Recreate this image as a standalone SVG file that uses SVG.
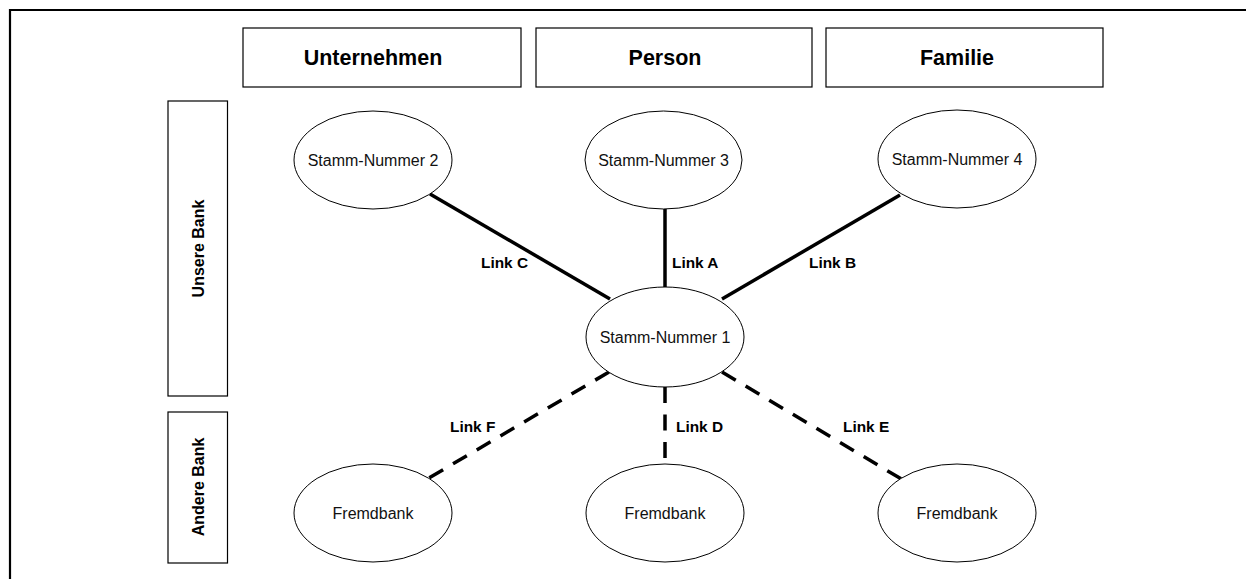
<svg xmlns="http://www.w3.org/2000/svg" width="1246" height="579" viewBox="0 0 1246 579">
<style>
.box{fill:#fff;stroke:#000;stroke-width:1.2}
.ell{fill:#fff;stroke:#000;stroke-width:1}
.hdr{font-family:"Liberation Sans",Arial,sans-serif;font-weight:bold;font-size:21.5px;text-anchor:middle}
.side{font-family:"Liberation Sans",Arial,sans-serif;font-weight:bold;font-size:16px;text-anchor:middle}
.lbl{font-family:"Liberation Sans",Arial,sans-serif;font-size:16px;text-anchor:middle;fill:#111}
.lnk{font-family:"Liberation Sans",Arial,sans-serif;font-weight:bold;font-size:15.4px}
.solid{stroke:#000;stroke-width:3.5;fill:none}
.dash{stroke:#000;stroke-width:3.5;fill:none;stroke-dasharray:16 11.5}
</style>
<rect width="1246" height="579" fill="#fff"/>
<path d="M10,579 V10 H1246" fill="none" stroke="#000" stroke-width="2.2"/>
<g id="hdr-unternehmen"><rect class="box" x="243" y="28" width="278" height="59"/><text class="hdr" x="373" y="65">Unternehmen</text></g>
<g id="hdr-person"><rect class="box" x="536" y="28" width="276" height="59"/><text class="hdr" x="665" y="65">Person</text></g>
<g id="hdr-familie"><rect class="box" x="826" y="28" width="277" height="59"/><text class="hdr" x="957" y="65">Familie</text></g>
<g id="side-unsere"><rect class="box" x="168" y="101" width="59.5" height="295"/><text class="side" transform="translate(203.5,248.5) rotate(-90)">Unsere Bank</text></g>
<g id="side-andere"><rect class="box" x="168" y="412" width="59.5" height="151"/><text class="side" transform="translate(203.5,487) rotate(-90)">Andere Bank</text></g>
<g id="connectors">
<line class="solid" x1="430" y1="194" x2="610" y2="299"/>
<line class="solid" x1="665" y1="209" x2="665" y2="287"/>
<line class="solid" x1="900" y1="195" x2="722" y2="299"/>
<line class="dash" x1="609" y1="372" x2="429" y2="478"/>
<line class="dash" x1="665" y1="387" x2="665" y2="459"/>
<line class="dash" x1="722" y1="372" x2="903" y2="480"/>
<text class="lnk" x="481" y="268">Link C</text>
<text class="lnk" x="672" y="268">Link A</text>
<text class="lnk" x="809" y="268">Link B</text>
<text class="lnk" x="450" y="432">Link F</text>
<text class="lnk" x="676" y="432">Link D</text>
<text class="lnk" x="843" y="432">Link E</text>
</g>
<g id="sn2"><ellipse class="ell" cx="373" cy="160" rx="79" ry="49"/><text class="lbl" x="373" y="165.5">Stamm-Nummer 2</text></g>
<g id="sn3"><ellipse class="ell" cx="663.5" cy="160" rx="78.5" ry="49"/><text class="lbl" x="663.5" y="165.5">Stamm-Nummer 3</text></g>
<g id="sn4"><ellipse class="ell" cx="957" cy="159" rx="79" ry="49"/><text class="lbl" x="957" y="164.5">Stamm-Nummer 4</text></g>
<g id="sn1"><ellipse class="ell" cx="665" cy="337" rx="79" ry="50"/><text class="lbl" x="665" y="342.5">Stamm-Nummer 1</text></g>
<g id="fb1"><ellipse class="ell" cx="373" cy="513" rx="79" ry="49"/><text class="lbl" x="373" y="518.5">Fremdbank</text></g>
<g id="fb2"><ellipse class="ell" cx="665" cy="513" rx="79" ry="49"/><text class="lbl" x="665" y="518.5">Fremdbank</text></g>
<g id="fb3"><ellipse class="ell" cx="957" cy="513" rx="79" ry="49"/><text class="lbl" x="957" y="518.5">Fremdbank</text></g>
</svg>
